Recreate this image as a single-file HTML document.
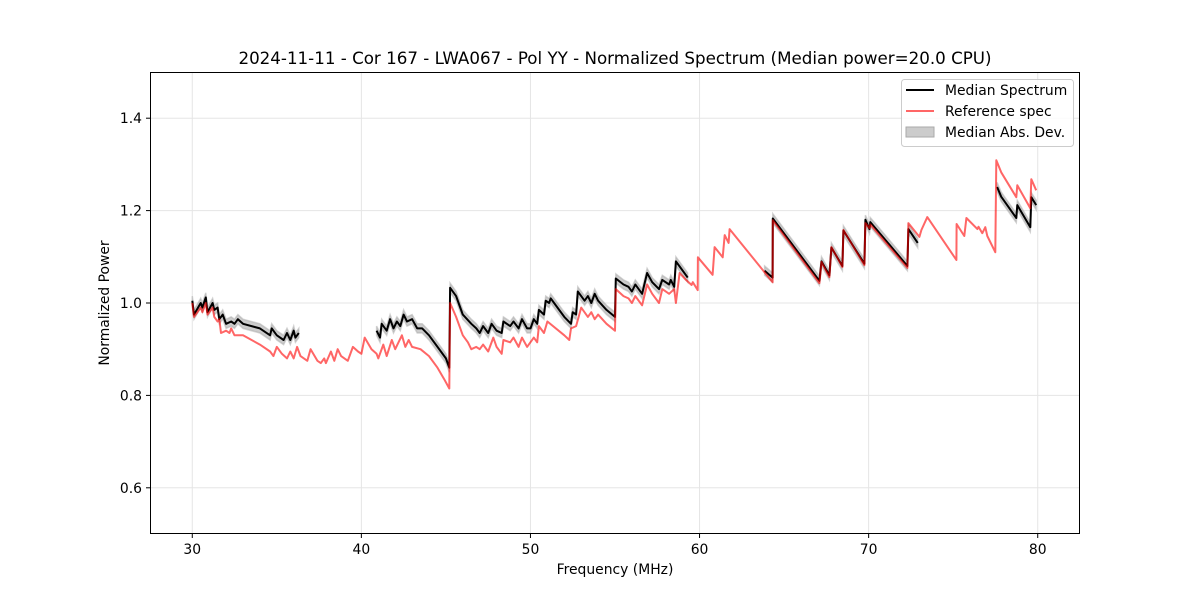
<!DOCTYPE html>
<html><head><meta charset="utf-8"><style>
body{margin:0;background:#fff;font-family:"DejaVu Sans","Liberation Sans",sans-serif}
svg text{font-family:"DejaVu Sans","Liberation Sans",sans-serif;fill:#000}
</style></head><body>
<svg id="chart" width="1200" height="600" viewBox="0 0 1200 600" xmlns="http://www.w3.org/2000/svg">
<rect width="1200" height="600" fill="#fff"/>
<text x="615" y="64" text-anchor="middle" font-size="16.7">2024-11-11 - Cor 167 - LWA067 - Pol YY - Normalized Spectrum (Median power=20.0 CPU)</text>
<g id="grid"></g>
<g id="series"></g>
<rect x="150.5" y="72.5" width="929" height="461" fill="none" stroke="#000" stroke-width="1"/>
<g id="ticks"></g>
<text x="615" y="574" text-anchor="middle" font-size="13.9">Frequency (MHz)</text>
<text transform="translate(109,303) rotate(-90)" text-anchor="middle" font-size="13.9">Normalized Power</text>
<g>
<rect x="901.5" y="79.5" width="172" height="67" rx="3" fill="#fff" fill-opacity="0.8" stroke="#ccc"/>
<line x1="906" y1="90" x2="934" y2="90" stroke="#000" stroke-width="2"/>
<text x="945" y="95" font-size="13.9">Median Spectrum</text>
<line x1="906" y1="111" x2="934" y2="111" stroke="#ff6666" stroke-width="2"/>
<text x="945" y="116" font-size="13.9">Reference spec</text>
<rect x="906" y="127" width="28" height="10" fill="#cccccc" stroke="#aaa"/>
<text x="945" y="137" font-size="13.9">Median Abs. Dev.</text>
</g>
</svg>
<script>
const xTicks=[30,40,50,60,70,80];
const yTicks=[0.6,0.8,1.0,1.2,1.4];
const yTickLabels=["0.6","0.8","1.0","1.2","1.4"];
const refFreq=[30.0,30.1,30.5,30.6,30.8,30.9,31.2,31.3,31.5,31.6,31.7,32.0,32.2,32.3,32.5,33.0,34.0,34.6,34.8,35.0,35.3,35.6,35.8,36.0,36.2,36.4,36.8,37.0,37.4,37.6,37.8,37.9,38.2,38.4,38.6,38.8,39.2,39.5,39.8,40.0,40.2,40.6,40.9,41.0,41.3,41.5,41.8,42.0,42.4,42.6,42.8,43.0,43.5,44.0,44.5,44.9,45.2,45.25,45.6,46.0,46.3,46.5,46.8,47.0,47.2,47.5,47.8,48.0,48.3,48.4,48.8,49.0,49.3,49.5,49.8,50.2,50.4,50.5,50.8,51.0,52.0,52.3,52.4,52.7,53.0,53.4,53.6,53.8,54.0,54.5,55.0,55.05,55.5,55.8,56.0,56.2,56.6,56.9,57.2,57.6,57.8,58.2,58.5,58.6,58.82,59.2,59.53,59.6,59.89,59.9,60.77,60.89,61.37,61.49,61.72,61.78,64.32,64.33,67.09,67.21,67.68,67.80,68.45,68.51,69.75,69.81,70.05,70.1,72.29,72.35,73.0,73.12,73.47,75.19,75.2,75.66,75.78,76.43,76.5,76.72,76.9,77.02,77.49,77.55,77.84,78.73,78.79,79.56,79.62,79.91];
const refPower=[1.00,0.97,0.99,0.98,1.0,0.975,0.99,0.97,0.96,0.965,0.935,0.94,0.935,0.945,0.93,0.93,0.91,0.895,0.885,0.905,0.89,0.88,0.895,0.88,0.905,0.885,0.875,0.9,0.875,0.87,0.88,0.87,0.895,0.875,0.9,0.885,0.875,0.905,0.895,0.89,0.925,0.9,0.89,0.88,0.91,0.885,0.92,0.9,0.93,0.905,0.92,0.905,0.9,0.885,0.86,0.835,0.815,1.0,0.97,0.93,0.915,0.9,0.905,0.9,0.91,0.895,0.925,0.905,0.89,0.92,0.915,0.925,0.905,0.925,0.905,0.925,0.915,0.95,0.935,0.96,0.93,0.92,0.945,0.95,0.99,0.97,0.98,0.965,0.975,0.955,0.94,1.03,1.015,1.01,1.0,1.015,0.995,1.04,1.02,1.0,1.03,1.02,1.03,1.0,1.065,1.05,1.039,1.045,1.028,1.099,1.061,1.121,1.099,1.147,1.13,1.16,1.045,1.179,1.043,1.089,1.056,1.121,1.078,1.158,1.082,1.173,1.162,1.17,1.076,1.173,1.143,1.158,1.186,1.093,1.171,1.145,1.184,1.16,1.165,1.151,1.164,1.145,1.110,1.309,1.283,1.229,1.255,1.205,1.268,1.244];
const medFreq=[
[30.0,30.1,30.5,30.6,30.8,30.9,31.2,31.3,31.5,31.6,31.8,32.0,32.3,32.5,32.7,33.0,34.0,34.6,34.7,35.0,35.4,35.6,35.8,36.0,36.1,36.3],
[40.9,41.1,41.2,41.5,41.7,41.9,42.1,42.3,42.5,42.7,43.0,43.3,43.6,44.0,44.5,45.0,45.2,45.25,45.6,46.0,46.5,46.8,47.0,47.2,47.5,47.7,48.0,48.3,48.4,48.8,49.0,49.3,49.5,49.8,50.0,50.2,50.4,50.5,50.8,50.9,51.1,51.2,52.0,52.4,52.5,52.7,52.8,53.2,53.4,53.6,53.8,54.0,54.5,55.0,55.05,55.5,55.8,56.0,56.2,56.6,56.9,57.2,57.6,57.8,58.2,58.3,58.5,58.6,58.8,59.3],
[63.85,64.32,64.33,67.09,67.21,67.68,67.80,68.45,68.51,69.75,69.81,70.05,70.1,72.29,72.35,72.9],
[77.6,77.84,78.73,78.79,79.56,79.62,79.91]];
const medPower=[
[1.005,0.975,1.0,0.99,1.012,0.98,1.0,0.985,0.99,0.965,0.975,0.955,0.96,0.955,0.965,0.955,0.945,0.93,0.945,0.93,0.92,0.935,0.92,0.94,0.925,0.935],
[0.94,0.925,0.955,0.94,0.965,0.945,0.96,0.95,0.975,0.96,0.965,0.945,0.945,0.93,0.905,0.88,0.86,1.033,1.015,0.975,0.955,0.945,0.935,0.95,0.935,0.955,0.94,0.935,0.96,0.95,0.96,0.945,0.965,0.945,0.945,0.965,0.955,0.985,0.975,1.005,1.0,1.01,0.97,0.955,0.98,0.975,1.025,1.005,1.015,1.0,1.02,1.005,0.985,0.97,1.053,1.04,1.035,1.025,1.04,1.02,1.065,1.045,1.03,1.05,1.04,1.05,1.035,1.09,1.08,1.055],
[1.07,1.055,1.183,1.048,1.09,1.06,1.12,1.08,1.157,1.085,1.18,1.16,1.175,1.08,1.16,1.13],
[1.251,1.23,1.184,1.212,1.164,1.229,1.212]];
const madHalf=0.01;
const NS="http://www.w3.org/2000/svg";
const X0=150,X1=1080,Y0=72,Y1=534,xmin=27.5,xmax=82.5,ymin=0.5,ymax=1.5;
const sx=f=>X0+(f-xmin)/(xmax-xmin)*(X1-X0);
const sy=v=>Y1-(v-ymin)/(ymax-ymin)*(Y1-Y0);
function mk(tag,attrs,parent){const e=document.createElementNS(NS,tag);for(const k in attrs)e.setAttribute(k,attrs[k]);parent.appendChild(e);return e;}
const grid=document.getElementById('grid'),ticks=document.getElementById('ticks'),series=document.getElementById('series');
xTicks.forEach(t=>{const x=sx(t);
 const g=mk('line',{x1:x,x2:x,y1:Y0,y2:Y1,stroke:'#e5e5e5','stroke-width':1},grid);
 
 
 mk('line',{x1:x,x2:x,y1:Y1,y2:Y1+4,stroke:'#000'},ticks);
 const tx=mk('text',{x:x,y:Y1+20,'text-anchor':'middle','font-size':13.9},ticks);tx.textContent=t;
 
 });
yTicks.forEach((t,i)=>{const y=sy(t);
 const g=mk('line',{x1:X0,x2:X1,y1:y,y2:y,stroke:'#e5e5e5','stroke-width':1},grid);
 
 
 mk('line',{x1:X0-4,x2:X0,y1:y,y2:y,stroke:'#000'},ticks);
 const tx=mk('text',{x:X0-8,y:y+5,'text-anchor':'end','font-size':13.9},ticks);tx.textContent=yTickLabels[i];
 
 });
function pathOf(fs,vs){return fs.map((f,i)=>(i?'L':'M')+sx(f).toFixed(1)+','+sy(vs[i]).toFixed(1)).join('');}
medFreq.forEach((fs,s)=>{const vs=medPower[s];
 const up=fs.map((f,i)=>sx(f).toFixed(1)+','+sy(vs[i]+madHalf).toFixed(1));
 const dn=fs.map((f,i)=>sx(f).toFixed(1)+','+sy(vs[i]-madHalf).toFixed(1)).reverse();
 const b=mk('polygon',{points:up.concat(dn).join(' '),fill:'#999','fill-opacity':0.5,stroke:'#aaa','stroke-width':1.5,'stroke-opacity':0.5},series);
 
 });
medFreq.forEach((fs,s)=>{const p=mk('path',{d:pathOf(fs,medPower[s]),fill:'none',stroke:'#000','stroke-width':2,'stroke-linejoin':'round'},series);
 
 });
const r=mk('path',{d:pathOf(refFreq,refPower),fill:'none',stroke:'#ff0000','stroke-opacity':0.6,'stroke-width':2,'stroke-linejoin':'round'},series);


</script>
</body></html>
